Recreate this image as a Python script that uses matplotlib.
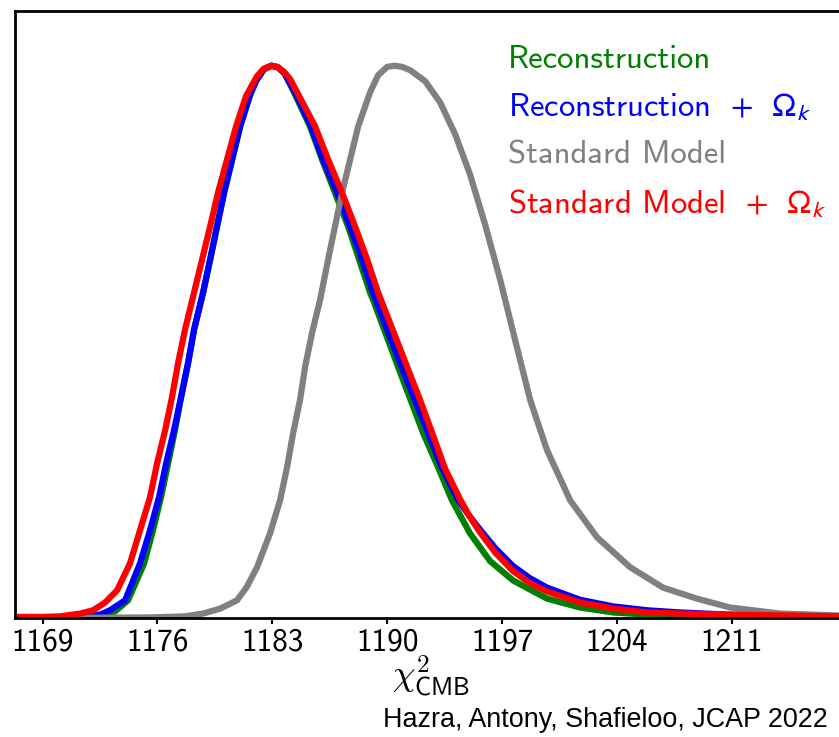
import matplotlib
matplotlib.use("Agg")
import numpy as np
from matplotlib import pyplot as plt

# chi2_CMB values and normalised posteriors
x_recon = [1167.3, 1171.89, 1172.81, 1173.42, 1174.21, 1175.19, 1175.73, 1176.22, 1176.65,
           1177.07, 1177.44, 1177.87, 1178.23, 1178.78, 1179.21, 1179.63, 1180.06, 1180.55,
           1181.04, 1181.64, 1182.0, 1182.5, 1182.95, 1183.35, 1183.75, 1184.27, 1185.30,
           1186.03, 1186.82, 1187.62, 1188.29, 1188.96, 1189.14, 1190.66, 1192.19, 1193.10,
           1193.95, 1195.05, 1196.27, 1197.67, 1199.74, 1201.75, 1203.77, 1205.84, 1209.06,
           1218.0]
p_recon = [0.0, 0.002, 0.005, 0.012, 0.032, 0.099, 0.159, 0.219, 0.280,
           0.340, 0.400, 0.462, 0.522, 0.589, 0.649, 0.709, 0.770, 0.830,
           0.890, 0.947, 0.972, 0.994, 1.0, 0.997, 0.986, 0.955, 0.890,
           0.830, 0.770, 0.709, 0.649, 0.589, 0.576, 0.455, 0.335, 0.273,
           0.213, 0.153, 0.103, 0.068, 0.035, 0.019, 0.010, 0.006, 0.003,
           0.001]

x_recon_ok = [1167.3, 1170.07, 1171.29, 1172.50, 1173.11, 1174.03, 1174.94, 1175.55, 1176.10,
              1176.53, 1177.01, 1177.44, 1177.87, 1178.23, 1178.78, 1179.21, 1179.63, 1180.06,
              1180.55, 1181.04, 1181.64, 1182.0, 1182.5, 1182.95, 1183.35, 1183.75, 1184.33,
              1185.36, 1186.09, 1186.95, 1187.74, 1188.47, 1189.14, 1190.05, 1190.97, 1191.76,
              1192.49, 1193.28, 1194.26, 1195.0, 1195.66, 1196.6, 1197.67, 1198.7, 1199.74,
              1201.75, 1203.77, 1205.84, 1207.85, 1210.90, 1218.0]
p_recon_ok = [0.0, 0.001, 0.004, 0.006, 0.014, 0.032, 0.099, 0.159, 0.219,
              0.280, 0.340, 0.400, 0.462, 0.522, 0.589, 0.649, 0.709, 0.770,
              0.830, 0.890, 0.947, 0.972, 0.994, 1.0, 0.997, 0.986, 0.955,
              0.890, 0.830, 0.770, 0.709, 0.649, 0.589, 0.518, 0.448, 0.389,
              0.335, 0.276, 0.217, 0.185, 0.160, 0.126, 0.094, 0.072, 0.055,
              0.033, 0.021, 0.014, 0.010, 0.006, 0.002]

x_std = [1167.3, 1175.55, 1177.68, 1178.78, 1179.82, 1180.85, 1181.46, 1182.07, 1182.86,
         1183.47, 1183.90, 1184.27, 1184.69, 1185.00, 1185.42, 1185.91, 1186.40, 1186.82,
         1187.25, 1187.74, 1188.23, 1188.96, 1189.45, 1190.0, 1190.45, 1190.9, 1191.40,
         1192.31, 1193.22, 1194.14, 1195.05, 1195.97, 1196.88, 1197.79, 1198.71, 1199.74,
         1201.15, 1202.79, 1204.80, 1206.81, 1208.88, 1210.90, 1213.94, 1218.0]
p_std = [0.0, 0.001, 0.003, 0.008, 0.017, 0.032, 0.057, 0.092, 0.153,
         0.213, 0.273, 0.335, 0.395, 0.455, 0.516, 0.576, 0.649, 0.709,
         0.770, 0.830, 0.890, 0.952, 0.983, 0.998, 1.0, 0.998, 0.992,
         0.972, 0.934, 0.876, 0.803, 0.712, 0.613, 0.504, 0.395, 0.304,
         0.213, 0.146, 0.092, 0.055, 0.035, 0.019, 0.008, 0.004]

x_std_ok = [1167.3, 1169.0, 1170.07, 1171.29, 1172.08, 1172.81, 1173.54, 1174.33, 1174.94,
            1175.55, 1175.98, 1176.47, 1176.89, 1177.26, 1177.68, 1178.23, 1178.72, 1179.21,
            1179.69, 1180.24, 1180.79, 1181.40, 1181.75, 1182.07, 1182.45, 1182.95, 1183.3,
            1183.72, 1184.1, 1184.51, 1185.61, 1186.40, 1187.25, 1188.04, 1188.78, 1189.45,
            1190.36, 1191.21, 1192.00, 1192.74, 1193.53, 1194.44, 1195.0, 1195.66, 1196.6,
            1197.67, 1198.7, 1199.74, 1201.75, 1203.77, 1205.84, 1207.85, 1210.90, 1218.0]
p_std_ok = [0.002, 0.002, 0.003, 0.008, 0.014, 0.028, 0.050, 0.099, 0.159,
            0.219, 0.280, 0.340, 0.400, 0.462, 0.522, 0.589, 0.649, 0.709,
            0.770, 0.830, 0.890, 0.945, 0.964, 0.981, 0.994, 1.0, 0.998,
            0.989, 0.975, 0.952, 0.890, 0.830, 0.770, 0.709, 0.649, 0.589,
            0.520, 0.455, 0.395, 0.335, 0.270, 0.215, 0.185, 0.155, 0.118,
            0.085, 0.063, 0.048, 0.028, 0.017, 0.010, 0.008, 0.006, 0.003]

xticks = [1169, 1176, 1183, 1190, 1197, 1204, 1211]
labels = ["Reconstruction",
          r"Reconstruction $\,+\;\;\Omega_k$",
          "Standard Model",
          r"Standard Model $\,+\;\;\Omega_k$"]
colors = ["green", "blue", "gray", "red"]

plt.rcParams["mathtext.fontset"] = "cm"

fig = plt.figure(figsize=(8.39, 7.37), dpi=100)
ax = fig.add_axes([14.5 / 839, 119 / 737, 832.2 / 839, 607.5 / 737])

lines = []
for xs, ps, c in zip([x_recon, x_recon_ok, x_std, x_std_ok],
                     [p_recon, p_recon_ok, p_std, p_std_ok], colors):
    (ln,) = ax.plot(xs, ps, color=c, lw=4.5, solid_joinstyle="round",
                    solid_capstyle="round")
    lines.append(ln)

ax.set_xlim(1167.29, 1218.0)
ax.set_ylim(0, 1.1)
ax.set_yticks([])
ax.set_xticks(xticks)
ax.set_xticklabels([str(t) for t in xticks], fontsize=22.5, family="cmss10")
ax.tick_params(axis="x", direction="out", length=4, width=1.5, pad=3)
for s in ax.spines.values():
    s.set_linewidth(2)

ax.set_xlabel(r"$\chi^2_{\mathsf{CMB}}$", fontsize=26, labelpad=-2)

leg = ax.legend(lines, labels, loc="upper left", bbox_to_anchor=(0.593, 0.944),
                frameon=False, handlelength=0, handletextpad=0,
                prop={"family": "cmss10", "size": 23.5},
                labelspacing=0.55, borderpad=0, borderaxespad=0)
for t, c in zip(leg.get_texts(), colors):
    t.set_color(c)
    t.set_math_fontfamily("stixsans")
for h in leg.legend_handles:
    h.set_visible(False)

fig.text(383 / 839, 10 / 737, "Hazra, Antony, Shafieloo, JCAP 2022",
         fontsize=19.4, family="Liberation Sans", va="baseline")

plt.savefig("out.png", dpi=100)
